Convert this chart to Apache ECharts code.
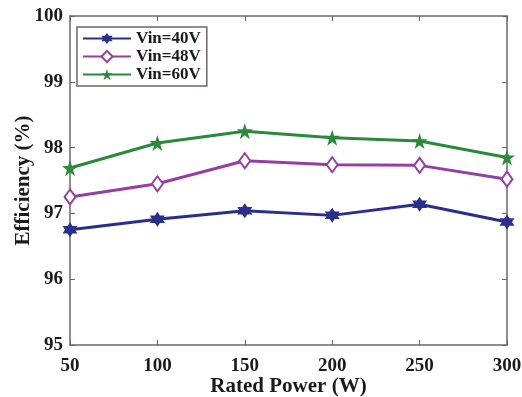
<!DOCTYPE html>
<html>
<head>
<meta charset="utf-8">
<script src="https://cdn.jsdelivr.net/npm/echarts@6/dist/echarts.min.js"></script>
<style>
  html, body { margin: 0; padding: 0; background: #fff; }
  #chart { width: 522px; height: 397px; }
</style>
</head>
<body>
<div id="chart"></div>
<script>
const power = [50, 100, 150, 200, 250, 300];
const vin40 = [96.75, 96.91, 97.04, 96.97, 97.14, 96.87];
const vin48 = [97.25, 97.45, 97.80, 97.74, 97.73, 97.52];
const vin60 = [97.69, 98.07, 98.25, 98.15, 98.10, 97.85];
const seriesNames = ['Vin=40V', 'Vin=48V', 'Vin=60V'];

const hexagram = 'path://M10 0 L12.89 5 L18.66 5 L15.77 10 L18.66 15 L12.89 15 L10 20 L7.11 15 L1.34 15 L4.23 10 L1.34 5 L7.11 5 Z';
const pentagram = 'path://M10 0 L12.25 6.91 L19.51 6.91 L13.63 11.18 L15.88 18.09 L10 13.82 L4.12 18.09 L6.37 11.18 L0.49 6.91 L7.75 6.91 Z';

const font = 'Liberation Serif, Times New Roman, serif';
const frameColor = '#6e6666';

function pairs(ys) {
  return power.map((x, i) => [x, ys[i]]);
}

const chart = echarts.init(document.getElementById('chart'));

const axisBase = {
  type: 'value',
  axisLine: { show: true, lineStyle: { color: frameColor, width: 1.5 } },
  axisTick: { show: true, inside: true, length: 5, lineStyle: { color: frameColor } },
  splitLine: { show: false }
};

chart.setOption({
  animation: false,
  grid: { left: 70, right: 15, top: 16, bottom: 52, containLabel: false, outerBoundsMode: 'none' },
  legend: {
    data: seriesNames,
    orient: 'vertical',
    left: 77,
    top: 27,
    itemWidth: 48,
    itemHeight: 14,
    itemGap: 1,
    padding: [3, 6, 3, 5],
    borderColor: frameColor,
    borderWidth: 1.5,
    backgroundColor: '#fff',
    textStyle: { fontFamily: font, fontWeight: 'bold', fontSize: 17, color: '#1a1a1a' }
  },
  xAxis: [
    Object.assign({}, axisBase, {
      min: 50, max: 300, interval: 50,
      name: 'Rated Power (W)',
      nameLocation: 'middle',
      nameGap: 31,
      nameMoveOverlap: false,
      nameTextStyle: { fontFamily: font, fontWeight: 'bold', fontSize: 21, color: '#1a1a1a' },
      axisLabel: { fontFamily: font, fontWeight: 'bold', fontSize: 19, color: '#1a1a1a', margin: 12 }
    }),
    Object.assign({}, axisBase, {
      position: 'top', min: 50, max: 300, interval: 50,
      axisLabel: { show: false }
    })
  ],
  yAxis: [
    Object.assign({}, axisBase, {
      min: 95, max: 100, interval: 1,
      name: 'Efficiency (%)',
      nameLocation: 'middle',
      nameGap: 36,
      nameMoveOverlap: false,
      nameTextStyle: { fontFamily: font, fontWeight: 'bold', fontSize: 21, color: '#1a1a1a' },
      axisLabel: { fontFamily: font, fontWeight: 'bold', fontSize: 19, color: '#1a1a1a', margin: 7 }
    }),
    Object.assign({}, axisBase, {
      position: 'right', min: 95, max: 100, interval: 1,
      axisLabel: { show: false }
    })
  ],
  series: [
    {
      name: seriesNames[0], type: 'line', data: pairs(vin40),
      symbol: hexagram, symbolSize: 15,
      lineStyle: { color: '#2b2f8c', width: 3 },
      itemStyle: { color: '#2b2f8c' }
    },
    {
      name: seriesNames[1], type: 'line', data: pairs(vin48),
      symbol: 'diamond', symbolSize: [11, 15],
      lineStyle: { color: '#953fa3', width: 3 },
      itemStyle: { color: '#fff', borderColor: '#953fa3', borderWidth: 2 }
    },
    {
      name: seriesNames[2], type: 'line', data: pairs(vin60),
      symbol: pentagram, symbolSize: 16,
      lineStyle: { color: '#2a8a3c', width: 3 },
      itemStyle: { color: '#2a8a3c' }
    }
  ]
});
</script>
</body>
</html>
